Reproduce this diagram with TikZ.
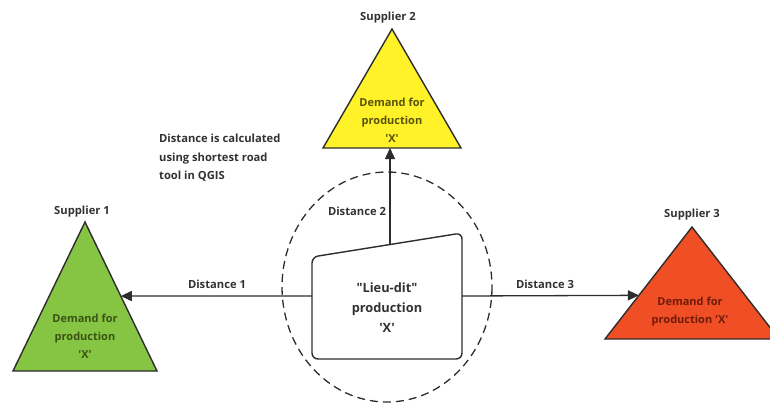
\documentclass[tikz,border=0pt]{standalone}
\usepackage{fontspec}
\setmainfont{Open Sans}
\usetikzlibrary{arrows.meta,calc}
\definecolor{LineGray}{RGB}{45,45,45}
\definecolor{LabelGray}{RGB}{50,50,50}
\definecolor{SupGreen}{RGB}{134,196,68}
\definecolor{SupYellow}{RGB}{255,242,40}
\definecolor{SupRed}{RGB}{240,78,36}
\definecolor{GreenText}{RGB}{58,84,20}
\definecolor{YellowText}{RGB}{88,82,10}
\definecolor{RedText}{RGB}{112,28,10}
\tikzset{
  tri/.style={draw=LineGray, line width=1.4pt, line join=miter},
  demand/.style={align=center, font=\fontsize{11}{18}\selectfont\bfseries, inner sep=0pt},
  lbl/.style={font=\fontsize{11.2}{18.5}\selectfont\bfseries, text=LabelGray, inner sep=0pt},
  arr/.style={-{Triangle[length=11pt, width=10pt]}, line width=1.3pt, color=LineGray}
}

\begin{document}
\begin{tikzpicture}[x=1pt, y=-1pt]
\useasboundingbox (0,0) rectangle (770,402);
\clip (0,0) rectangle (770,402);

% suppliers
\draw[tri, fill=SupGreen] (85,222) coordinate (s1top) -- (157,371) coordinate (s1right)
  -- (13,371) coordinate (s1left) -- cycle;
\draw[tri, fill=SupYellow] (392,29) coordinate (s2top) -- (461,148) coordinate (s2right)
  -- (323,148) coordinate (s2left) -- cycle;
\draw[tri, fill=SupRed] (692,227) coordinate (s3top) -- (779,339) coordinate (s3right)
  -- (605,339) coordinate (s3left) -- cycle;

\node[lbl] (s1name) at (82,212) {Supplier 1};
\node[lbl] (s2name) at (388,18) {Supplier 2};
\node[lbl] (s3name) at (692,215) {Supplier 3};

\node[demand, text=GreenText] (s1txt) at (85,336) {Demand for\\production\\\textquotesingle X\textquotesingle};
\node[demand, text=YellowText] (s2txt) at (392,120) {Demand for\\production\\\textquotesingle X\textquotesingle};
\node[demand, text=RedText] (s3txt) at (690,312) {Demand for\\production \textquotesingle X\textquotesingle};

% area of the lieu-dit
\draw[LineGray, line width=1.3pt, dash pattern=on 8pt off 5pt] (387,287) ellipse [x radius=105, y radius=115];

\draw[LineGray, line width=1.4pt, rounded corners=6pt, fill=white]
  (312,257) coordinate (bxtl) -- (462,233) coordinate (bxtr)
  -- (462,359) coordinate (bxbr) -- (312,359) coordinate (bxbl) -- cycle;
\node[align=center, font=\fontsize{12.8}{20}\selectfont\bfseries, text=LabelGray, inner sep=0pt]
  (prod) at (387,308) {\textquotedbl Lieu-dit\textquotedbl\\production\\\textquotesingle X\textquotesingle};

\coordinate (bxw) at (312,296);
\coordinate (bxe) at (462,296);
\coordinate (bxn) at ($(bxtl)!0.52!(bxtr)$);
\coordinate (s1hit) at ($(s1top)!0.497!(s1right)$);
\coordinate (s3hit) at ($(s3top)!0.61!(s3left)$);
\coordinate (s2hit) at (bxn |- s2left);

\draw[arr] (bxw) -- (s1hit);
\draw[arr] (bxn) -- (s2hit);
\draw[arr] (bxe) -- (s3hit);

\node[lbl] (d1) at (217,284) {Distance 1};
\node[lbl] (d2) at (357,211) {Distance 2};
\node[lbl] (d3) at (545,284) {Distance 3};

\node[lbl, anchor=north west, align=left] (note) at (159,134)
  {Distance is calculated\\using shortest road\\tool in QGIS};
\end{tikzpicture}
\end{document}
